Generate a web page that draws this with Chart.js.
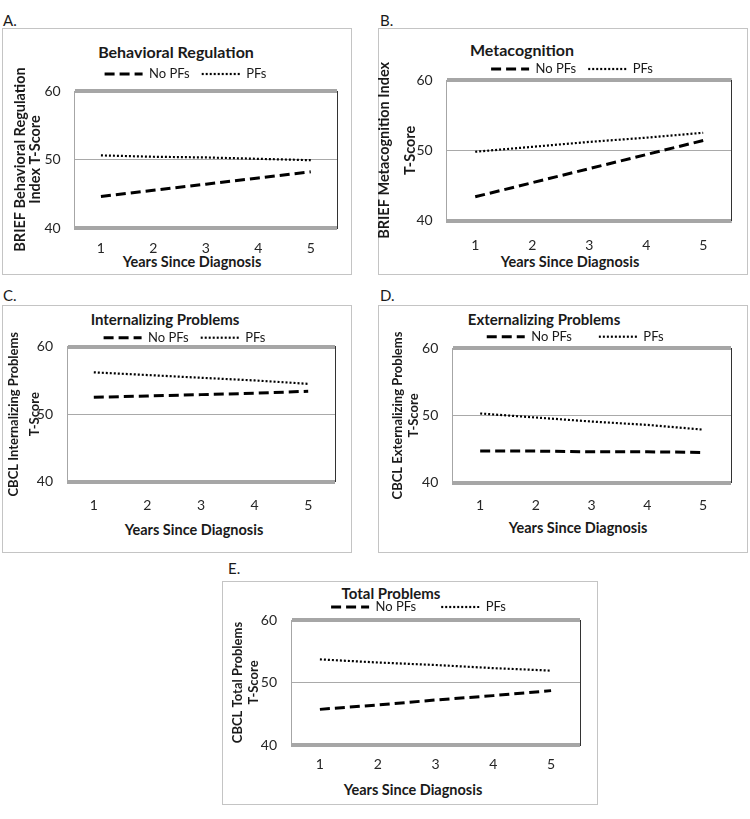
<!DOCTYPE html>
<html lang="en">
<head>
<meta charset="utf-8">
<title>BRIEF and CBCL T-Scores by Years Since Diagnosis</title>
<script src="https://cdn.jsdelivr.net/npm/chart.js@4.4.1/dist/chart.umd.min.js"></script>
<style>
  html, body { margin: 0; padding: 0; background: #fff; }
  body { width: 750px; height: 819px; position: relative; overflow: hidden;
         font-family: Lato, "Open Sans", sans-serif; color: #1a1a1a; }
  .frame { position: absolute; border: 1px solid #c4c4c4; box-sizing: border-box; }
  .letter { position: absolute; font-size: 15px; transform: translate(0, -50%); }
  .title, .xtitle { position: absolute; font-weight: 700; white-space: nowrap;
                    transform: translate(-50%, -50%); line-height: 1.2; }
  canvas { position: absolute; }
</style>
</head>
<body>
<script>
/* ------------------------------------------------------------
   Values (T-scores per year since diagnosis)
   ------------------------------------------------------------ */
var YEARS = ['1', '2', '3', '4', '5'];
var Y_TICKS = [40, 50, 60];
var SERIES = ['No PFs', 'PFs'];

var BR_NO_PF = [44.6, 45.5, 46.4, 47.3, 48.2];
var BR_PF = [50.6, 50.4, 50.3, 50.1, 49.9];
var MC_NO_PF = [43.4, 45.4, 47.4, 49.4, 51.4];
var MC_PF = [49.8, 50.5, 51.2, 51.8, 52.5];
var INT_NO_PF = [52.5, 52.7, 52.9, 53.1, 53.4];
var INT_PF = [56.2, 55.8, 55.4, 55.0, 54.5];
var EXT_NO_PF = [44.7, 44.7, 44.6, 44.6, 44.5];
var EXT_PF = [50.3, 49.7, 49.1, 48.6, 47.9];
var TOT_NO_PF = [45.7, 46.4, 47.2, 47.9, 48.7];
var TOT_PF = [53.7, 53.2, 52.8, 52.3, 51.9];

(function () {
  'use strict';

  Chart.defaults.font.family = 'Lato, "Open Sans", sans-serif';
  Chart.defaults.color = '#1f1f1f';

  var EXTRA = 12;        /* canvas starts a bit above the frame */
  var LEGEND_FONT = 13;
  var MIN_AXIS_W = 33;   /* room for the y tick labels */

  /* Layout of each panel (page pixels) */
  var panels = [
    { letter: 'A.', letterAt: [3, 20], title: 'Behavioral Regulation', titleAt: [176, 52], titleSize: 16,
      yTitle: ['BRIEF Behavioral Regulation', 'Index T-Score'], yTitleX: 18, yTitleGap: 15, yTitleSize: 14.5,
      xTitleAt: [192, 262], noPF: BR_NO_PF, pf: BR_PF,
      box: [2, 28, 350, 247], plot: [74.7, 91, 337, 228],
      legendAt: [179.5, 74], legendGap: 12, xTickPad: 11.6 },
    { letter: 'B.', letterAt: [380, 20], title: 'Metacognition', titleAt: [522, 50], titleSize: 16,
      yTitle: ['BRIEF Metacognition Index', 'T-Score'], yTitleX: 6, yTitleGap: 26, yTitleSize: 14.5,
      xTitleAt: [570, 262], noPF: MC_NO_PF, pf: MC_PF,
      box: [378, 28, 370, 247], plot: [446.7, 80, 731.7, 220.7],
      legendAt: [566, 69], legendGap: 12, xTickPad: 16 },
    { letter: 'C.', letterAt: [3, 295], title: 'Internalizing Problems', titleAt: [165, 319], titleSize: 15,
      yTitle: ['CBCL Internalizing Problems', 'T-Score'], yTitleX: 12, yTitleGap: 21, yTitleSize: 13,
      xTitleAt: [194, 530], noPF: INT_NO_PF, pf: INT_PF,
      box: [2, 305, 350, 248], plot: [67, 346.7, 335, 481.7],
      legendAt: [179, 337.7], legendGap: 12, xTickPad: 15 },
    { letter: 'D.', letterAt: [380, 295], title: 'Externalizing Problems', titleAt: [544, 319], titleSize: 15,
      yTitle: ['CBCL Externalizing Problems', 'T-Score'], yTitleX: 19.7, yTitleGap: 16.5, yTitleSize: 13,
      xTitleAt: [578, 528], noPF: EXT_NO_PF, pf: EXT_PF,
      box: [378, 305, 370, 248], plot: [452.3, 348.3, 731, 482.7],
      legendAt: [566, 336.7], legendGap: 27, xTickPad: 14 },
    { letter: 'E.', letterAt: [228, 568], title: 'Total Problems', titleAt: [391, 592.7], titleSize: 15,
      yTitle: ['CBCL Total Problems', 'T-Score'], yTitleX: 16, yTitleGap: 16, yTitleSize: 13,
      xTitleAt: [413, 790], noPF: TOT_NO_PF, pf: TOT_PF,
      box: [222, 581, 376, 224], plot: [291, 620, 580, 745],
      legendAt: [406, 607], legendGap: 25, xTickPad: 10.6 }
  ];

  /* The legend box gets a fixed height so the plot top lands where it should */
  var legendHeight = {
    id: 'legendHeight',
    afterInit: function (chart, args, opts) {
      var legend = chart.legend;
      if (!legend) { return; }
      var fit = legend.fit;
      legend.fit = function () {
        fit.call(this);
        this.height = opts.height;
      };
    }
  };

  /* legend samples drawn with each line's own dash and width */
  function legendLabels(chart) {
    var items = Chart.defaults.plugins.legend.labels.generateLabels(chart);
    items.forEach(function (it) {
      var ds = chart.data.datasets[it.datasetIndex];
      it.lineDash = ds.borderDash;
      it.lineWidth = ds.borderWidth;
      it.strokeStyle = ds.borderColor;
      it.fillStyle = 'transparent';
    });
    return items;
  }

  function addText(cls, text, x, y, size) {
    var el = document.createElement('div');
    el.className = cls;
    el.textContent = text;
    el.style.left = x + 'px';
    el.style.top = y + 'px';
    if (size) { el.style.fontSize = size + 'px'; }
    document.body.appendChild(el);
  }

  function buildPanel(p) {
    var frame = document.createElement('div');
    frame.className = 'frame';
    frame.style.left = p.box[0] + 'px';
    frame.style.top = p.box[1] + 'px';
    frame.style.width = p.box[2] + 'px';
    frame.style.height = p.box[3] + 'px';
    document.body.appendChild(frame);

    addText('letter', p.letter, p.letterAt[0], p.letterAt[1], 15);
    addText('title', p.title, p.titleAt[0], p.titleAt[1], p.titleSize);
    addText('xtitle', 'Years Since Diagnosis', p.xTitleAt[0], p.xTitleAt[1], 14.5);

    var left = p.box[0], top = p.box[1] - EXTRA;
    var W = p.box[2], H = p.box[3] + EXTRA;
    var plotL = p.plot[0] - left, plotT = p.plot[1] - top;
    var plotR = p.plot[2] - left, plotB = p.plot[3] - top;
    var legX = p.legendAt[0] - left, legY = p.legendAt[1] - top;

    /* left padding centres the legend, but keeps room for the tick labels */
    var padL = Math.min(2 * (legX + p.legendGap / 2) - plotR, plotL - MIN_AXIS_W);
    var padT = legY - p.legendGap - LEGEND_FONT / 2;

    var canvas = document.createElement('canvas');
    canvas.width = W;
    canvas.height = H;
    canvas.style.left = left + 'px';
    canvas.style.top = top + 'px';
    canvas.style.width = W + 'px';
    canvas.style.height = H + 'px';
    document.body.appendChild(canvas);

    return new Chart(canvas, {
      type: 'line',
      data: {
        labels: YEARS,
        datasets: [
          {
            label: SERIES[0],
            data: p.noPF,
            borderColor: '#000',
            borderWidth: 3,
            borderDash: [10, 5],
            pointRadius: 0,
            fill: false,
            tension: 0
          },
          {
            label: SERIES[1],
            data: p.pf,
            borderColor: '#000',
            borderWidth: 2.2,
            borderDash: [2, 2],
            pointRadius: 0,
            fill: false,
            tension: 0
          }
        ]
      },
      plugins: [legendHeight],
      options: {
        responsive: false,
        animation: false,
        devicePixelRatio: 1,
        layout: { padding: { left: padL, right: W - plotR, top: padT, bottom: 0 } },
        plugins: {
          title: { display: false },
          tooltip: { enabled: false },
          legendHeight: { height: plotT - padT },
          legend: {
            display: true,
            position: 'top',
            labels: {
              usePointStyle: true,
              pointStyle: 'line',
              pointStyleWidth: 38,
              padding: p.legendGap,
              color: '#1a1a1a',
              font: { size: LEGEND_FONT },
              generateLabels: legendLabels
            }
          }
        },
        scales: {
          x: {
            type: 'category',
            offset: true,
            grid: { display: false, drawTicks: false },
            border: { display: false },
            ticks: { color: '#262626', font: { size: 14 }, padding: p.xTickPad, maxRotation: 0 },
            afterFit: function (scale) { scale.height = H - plotB; }
          },
          y: {
            min: Y_TICKS[0],
            max: Y_TICKS[Y_TICKS.length - 1],
            afterBuildTicks: function (scale) {
              scale.ticks = Y_TICKS.map(function (v) { return { value: v }; });
            },
            grid: {
              drawTicks: false,
              color: function (ctx) { return ctx.tick && ctx.tick.value === 50 ? '#a9a9a9' : '#a6a6a6'; },
              lineWidth: function (ctx) { return ctx.tick && ctx.tick.value === 50 ? 1 : 4; }
            },
            border: { display: true, color: '#a6a6a6', width: 1 },
            ticks: { color: '#262626', font: { size: 14 }, padding: 14 },
            title: {
              display: true,
              text: p.yTitle,
              color: '#1a1a1a',
              font: { size: p.yTitleSize, weight: '700', lineHeight: p.yTitleGap + 'px' },
              padding: { top: p.yTitleX - padL - p.yTitleGap / 2, bottom: 0 }
            },
            afterFit: function (scale) { scale.width = plotL - padL; }
          },
          yRight: {
            position: 'right',
            min: Y_TICKS[0],
            max: Y_TICKS[Y_TICKS.length - 1],
            grid: { display: false },
            ticks: { display: false },
            border: { display: true, color: '#333', width: 1 },
            afterFit: function (scale) { scale.width = 0; }
          }
        }
      }
    });
  }

  for (var i = 0; i < panels.length; i++) { buildPanel(panels[i]); }
})();
</script>
</body>
</html>
